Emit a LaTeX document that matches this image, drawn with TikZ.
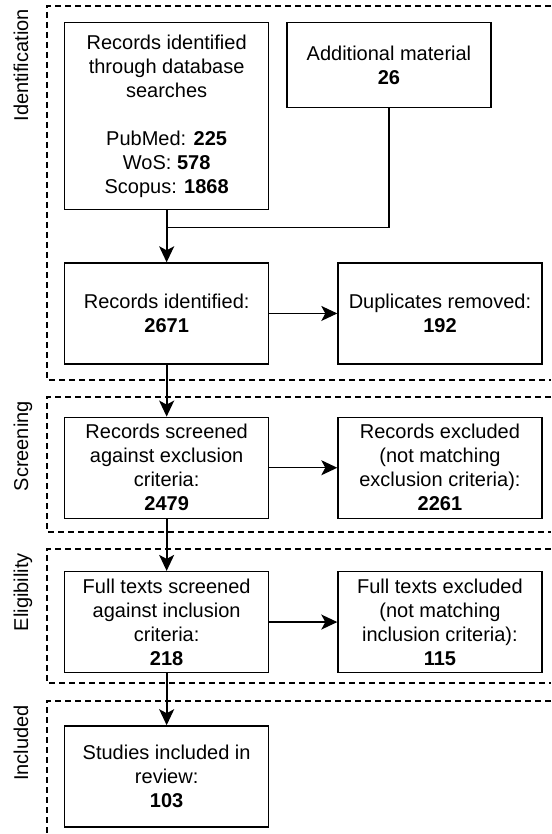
\documentclass[tikz,border=0pt]{standalone}
\usepackage{fontspec}
\setmainfont{Liberation Sans}
\usetikzlibrary{arrows.meta,positioning}

\begin{document}
\begin{tikzpicture}[
  x=1pt, y=-1pt,
  node distance=52pt and 68pt,
  font=\fontsize{20}{24}\selectfont,
  box/.style={rectangle, draw, line width=1.3pt, minimum width=204pt, minimum height=101pt, align=center, inner sep=2pt},
  arrow/.style={-{Stealth[length=16pt,width=15pt,inset=4pt]}, line width=1.3pt},
  flow/.style={arrow, line width=1.8pt},
  phase/.style={dash pattern=on 6pt off 4pt, line width=1.2pt},
  stage/.style={rotate=90, anchor=base east, inner sep=0pt}
]
\useasboundingbox (0,0) rectangle (551,834);

\node[box, minimum height=187pt, anchor=north west] (search) at (64,22) {Records identified\\through database\\searches\\[24pt]PubMed: \textbf{225}\\WoS: \textbf{578}\\Scopus: \textbf{1868}};
\node[box, minimum height=85pt, right=17pt of search.north east, anchor=north west] (extra) {Additional material\\\textbf{26}};
\node[box, below=of search] (found) {Records identified:\\\textbf{2671}};
\node[box, right=of found] (dupes) {Duplicates removed:\\\textbf{192}};
\node[box, below=of found] (screened) {Records screened\\against exclusion\\criteria:\\\textbf{2479}};
\node[box, right=of screened] (excluded) {Records excluded\\(not matching\\exclusion criteria):\\\textbf{2261}};
\node[box, below=of screened] (fulltext) {Full texts screened\\against inclusion\\criteria:\\\textbf{218}};
\node[box, right=of fulltext] (rejected) {Full texts excluded\\(not matching\\inclusion criteria):\\\textbf{115}};
\node[box, below=of fulltext] (included) {Studies included in\\review:\\\textbf{103}};

\coordinate[below=17pt of search.south] (join);
\draw[flow] (search) -- (found);
\draw[line width=1.3pt] (extra) |- (join);
\draw[arrow] (found) -- (dupes);
\draw[flow] (found) -- (screened);
\draw[arrow] (screened) -- (excluded);
\draw[flow] (screened) -- (fulltext);
\draw[arrow] (fulltext) -- (rejected);
\draw[flow] (fulltext) -- (included);

\draw[phase] (551,6) -| (47,380) -- (551,380);
\draw[phase] (551,397) -| (47,532) -- (551,532);
\draw[phase] (551,549) -| (47,683) -- (551,683);
\draw[phase] (551,701) -| (47,834);

\node[stage] (ident) at (28,9) {Identification};
\node[stage] (screen) at (28,401) {Screening};
\node[stage] (elig) at (28,553) {Eligibility};
\node[stage] (incl) at (28,705) {Included};

\end{tikzpicture}
\end{document}
